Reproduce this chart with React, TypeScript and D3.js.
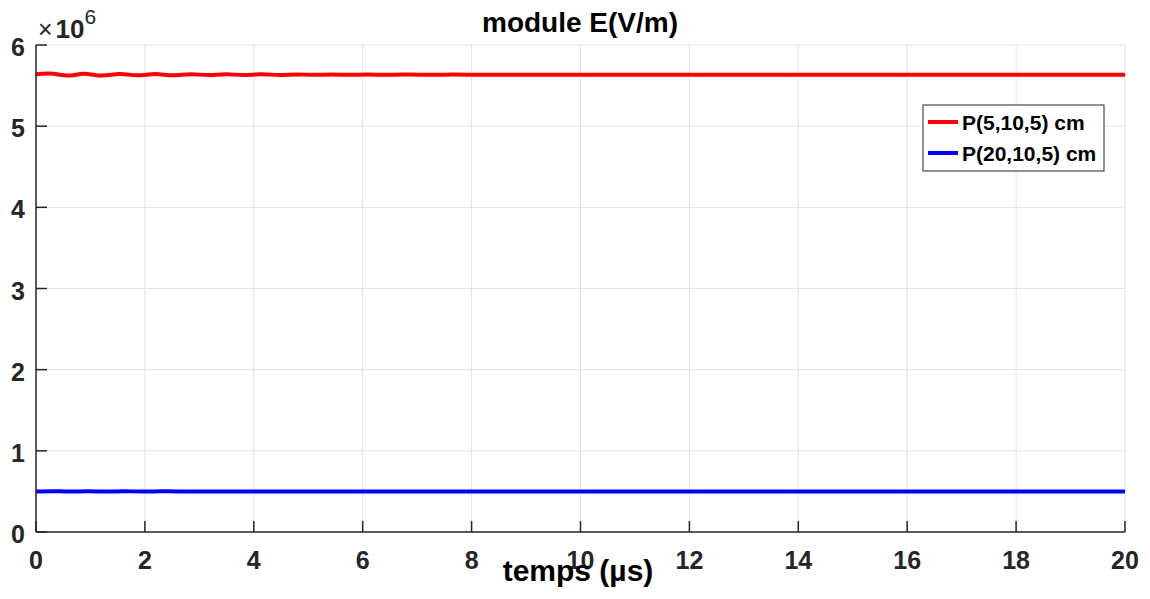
import * as d3 from "d3";

// time axis in µs, field values in units of 1e6 V/m
const redTimes = [0, 0.26, 0.59, 0.88, 1.21, 1.54, 1.86, 2.19, 2.51, 2.84, 3.16, 3.49, 3.81, 4.14, 4.46, 4.79, 5.11, 5.44, 5.76, 6.09, 6.41, 6.74, 7.06, 7.5, 8, 10, 12, 14, 16, 18, 20];
const redValues = [5.64, 5.648, 5.623, 5.645, 5.624, 5.644, 5.626, 5.642, 5.627, 5.641, 5.629, 5.64, 5.63, 5.639, 5.631, 5.638, 5.632, 5.637, 5.633, 5.636, 5.634, 5.636, 5.634, 5.635, 5.635, 5.635, 5.635, 5.635, 5.635, 5.635, 5.635];
const blueTimes = [0, 0.3, 0.6, 0.95, 1.3, 1.6, 1.95, 2.3, 2.6, 3, 4, 6, 8, 10, 12, 14, 16, 18, 20];
const blueValues = [0.5, 0.503, 0.498, 0.502, 0.499, 0.502, 0.499, 0.501, 0.5, 0.5, 0.5, 0.5, 0.5, 0.5, 0.5, 0.5, 0.5, 0.5, 0.5];

const xTicks = [0, 2, 4, 6, 8, 10, 12, 14, 16, 18, 20];
const yTicks = [0, 1, 2, 3, 4, 5, 6];
const seriesNames = ["P(5,10,5) cm", "P(20,10,5) cm"];
const seriesColors = ["#ff0000", "#0000ff"];

const W = 1150, H = 599;
const m = { left: 36, right: 1125, top: 45, bottom: 532 };
const font = "'Liberation Sans', Arial, sans-serif";
const ink = "#262626";

export default function App() {
  const x = d3.scaleLinear().domain([0, 20]).range([m.left, m.right]);
  const y = d3.scaleLinear().domain([0, 6]).range([m.bottom, m.top]);
  const line = d3.line<[number, number]>()
    .x((d) => x(d[0]))
    .y((d) => y(d[1]))
    .curve(d3.curveCatmullRom);

  const series = [
    redTimes.map((t, i) => [t, redValues[i]] as [number, number]),
    blueTimes.map((t, i) => [t, blueValues[i]] as [number, number]),
  ];

  return (
    <svg width={W} height={H} style={{ position: "absolute", left: 0, top: 0, background: "#fff" }} fontFamily={font}>
      <rect width={W} height={H} fill="#fff" />
      {/* grid */}
      <g stroke="#e3e3e3" strokeWidth={1}>
        {xTicks.map((t) => <line key={"gx" + t} x1={x(t)} x2={x(t)} y1={m.top} y2={m.bottom} />)}
        {yTicks.map((t) => <line key={"gy" + t} x1={m.left} x2={m.right} y1={y(t)} y2={y(t)} />)}
      </g>
      {/* data */}
      {series.map((s, i) => (
        <path key={i} d={line(s) ?? ""} fill="none" stroke={seriesColors[i]} strokeWidth={4} />
      ))}
      {/* axes */}
      <g stroke={ink} strokeWidth={1.5}>
        <line x1={m.left} x2={m.left} y1={m.top} y2={m.bottom} />
        <line x1={m.left} x2={m.right} y1={m.bottom} y2={m.bottom} />
        {xTicks.map((t) => <line key={"tx" + t} x1={x(t)} x2={x(t)} y1={m.bottom} y2={m.bottom - 11} />)}
        {yTicks.map((t) => <line key={"ty" + t} x1={m.left} x2={m.left + 11} y1={y(t)} y2={y(t)} />)}
      </g>
      <g fill={ink} fontWeight="bold" fontSize={25}>
        {xTicks.map((t) => (
          <text key={"lx" + t} x={x(t)} y={569} textAnchor="middle">{t}</text>
        ))}
        {yTicks.map((t) => (
          <text key={"ly" + t} x={25} y={y(t) + 11} textAnchor="end">{t}</text>
        ))}
      </g>
      {/* exponent */}
      <text x={38} y={38} fill={ink} fontSize={26}>
        <tspan fontSize={25}>×</tspan>
        <tspan fontWeight="bold" dx={3}>10</tspan>
        <tspan fontSize={21} dy={-14}>6</tspan>
      </text>
      {/* title and label */}
      <text x={580} y={32} textAnchor="middle" fontWeight="bold" fontSize={28} fill="#000">module E(V/m)</text>
      <text x={578} y={581} textAnchor="middle" fontWeight="bold" fontSize={30} fill="#000">temps (µs)</text>
      {/* legend */}
      <g>
        <rect x={923} y={105} width={181} height={66} fill="#fff" stroke={ink} strokeWidth={1} />
        {seriesNames.map((n, i) => (
          <g key={n}>
            <line x1={928} x2={958} y1={122 + i * 31} y2={122 + i * 31} stroke={seriesColors[i]} strokeWidth={4} />
            <text x={962} y={122 + i * 31 + 8} fontSize={21} fontWeight="bold" fill="#000">{n}</text>
          </g>
        ))}
      </g>
    </svg>
  );
}
